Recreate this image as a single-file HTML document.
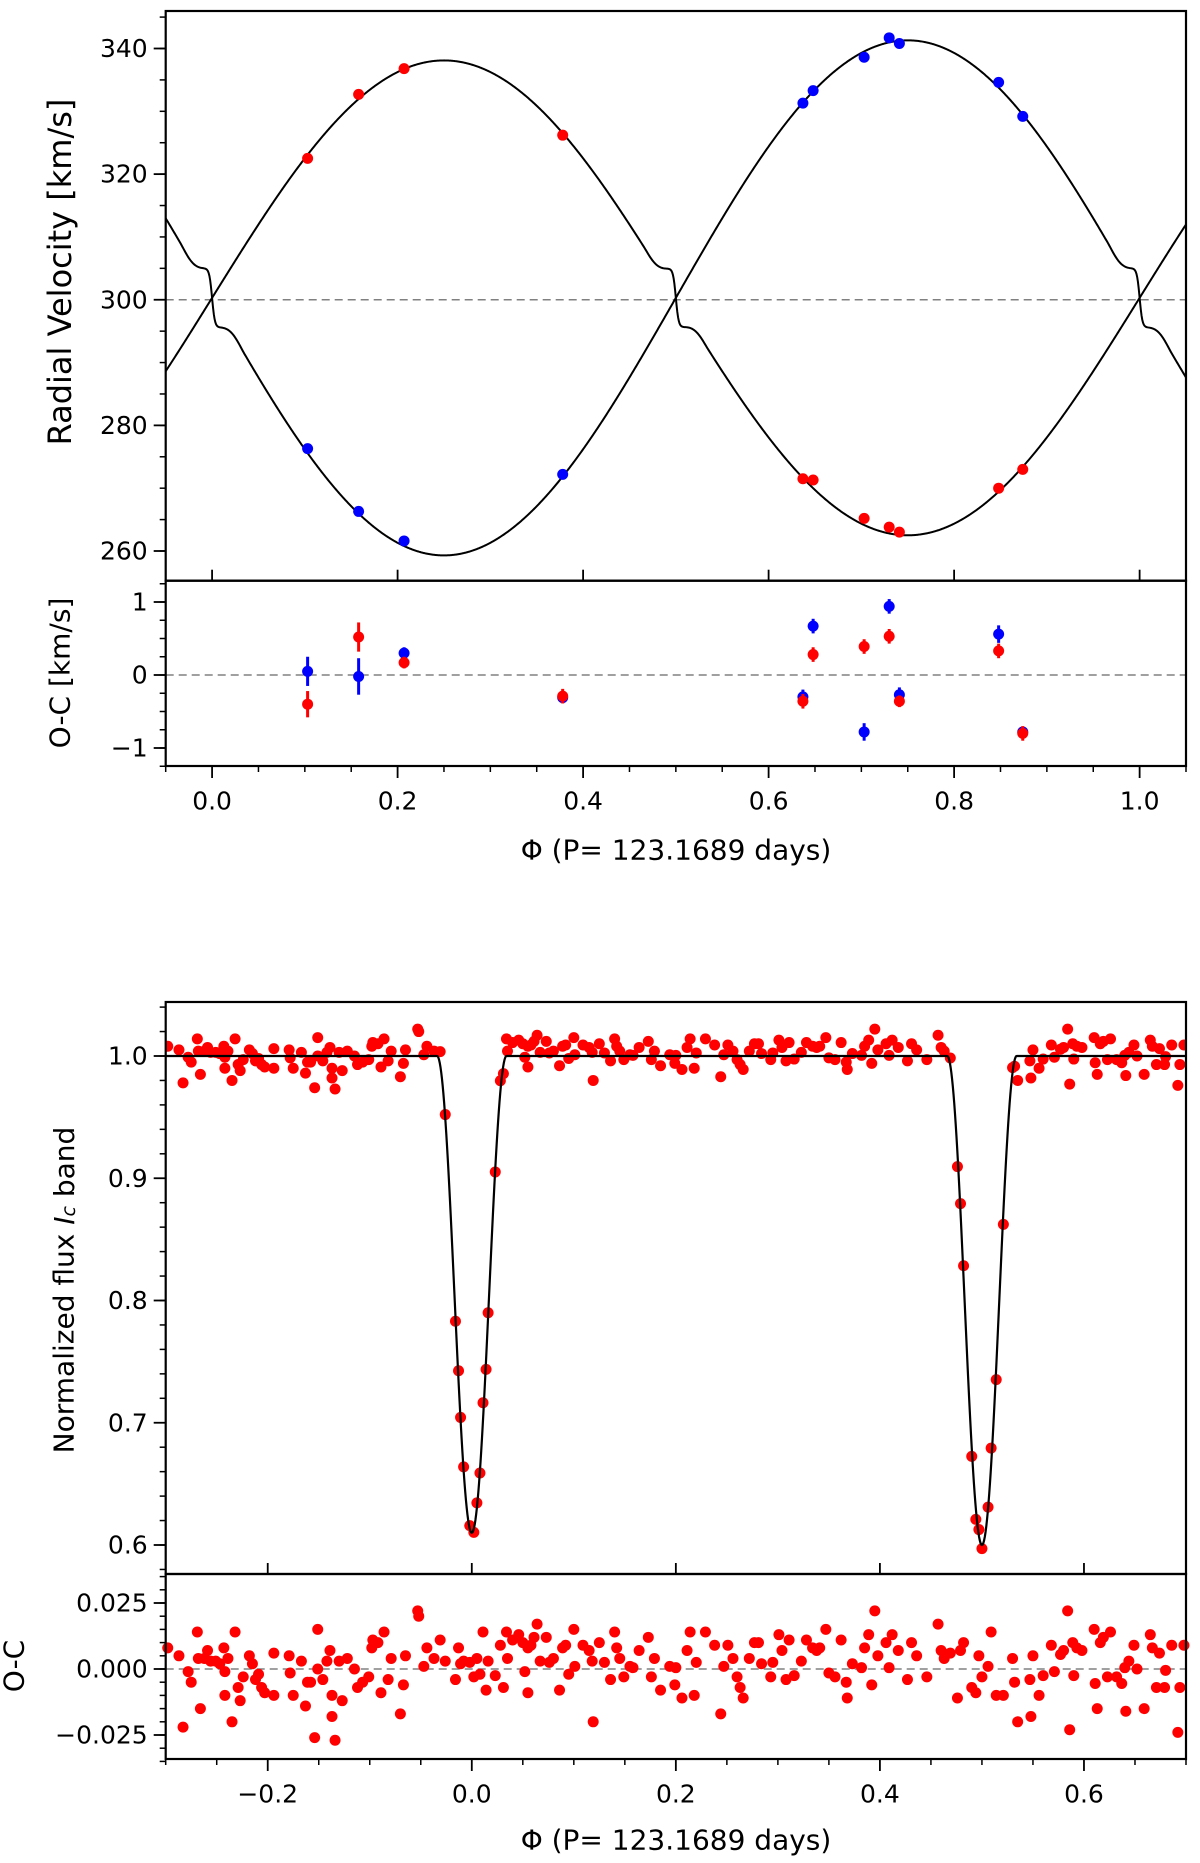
<!DOCTYPE html>
<html><head><meta charset="utf-8"><style>
html,body{margin:0;padding:0;background:#fff}
svg{display:block}
text{font-family:"DejaVu Sans","Liberation Sans",sans-serif;fill:#000}
</style></head><body>
<svg id="fig" width="1200" height="1863" viewBox="0 0 1200 1863" xmlns="http://www.w3.org/2000/svg"></svg>
<script>
// ---------- RV data ----------
const rvPhase = [0.103,0.158,0.207,0.378,0.637,0.648,0.703,0.730,0.741,0.848,0.874];
const rvRed   = [322.5,332.7,336.8,326.2,271.5,271.3,265.2,263.8,263.0,270.0,273.0];
const rvBlue  = [276.3,266.3,261.6,272.2,331.3,333.3,338.6,341.7,340.8,334.6,329.2];
const ocRed     = [-0.40,0.52,0.17,-0.29,-0.36,0.28,0.39,0.53,-0.36,0.33,-0.80];
const ocRedErr  = [0.18,0.20,0.08,0.10,0.10,0.10,0.10,0.10,0.08,0.10,0.10];
const ocBlue    = [0.05,-0.02,0.30,-0.31,-0.30,0.67,-0.78,0.94,-0.27,0.56,-0.78];
const ocBlueErr = [0.20,0.25,0.08,0.05,0.10,0.10,0.12,0.10,0.10,0.12,0.05];
const rvTicksY = [260,280,300,320,340];
const rvTicksX = [0.0,0.2,0.4,0.6,0.8,1.0];
const ocTicksY = [-1,0,1];
// ---------- Light curve data ----------
const lcPhase = [-0.298,-0.287,-0.283,-0.278,-0.275,-0.269,-0.268,-0.266,-0.262,-0.259,-0.256,-0.251,-0.247,-0.243,-0.242,-0.242,-0.239,-0.235,-0.232,-0.229,-0.227,-0.224,-0.218,-0.215,-0.212,-0.209,-0.206,-0.203,-0.194,-0.194,-0.179,-0.178,-0.175,-0.167,-0.163,-0.161,-0.158,-0.154,-0.151,-0.151,-0.146,-0.142,-0.139,-0.137,-0.137,-0.134,-0.130,-0.127,-0.122,-0.115,-0.112,-0.107,-0.101,-0.098,-0.097,-0.092,-0.089,-0.086,-0.082,-0.079,-0.070,-0.067,-0.065,-0.053,-0.052,-0.047,-0.044,-0.037,-0.031,-0.026,-0.016,-0.013,-0.011,-0.008,-0.002,0.002,0.005,0.008,0.011,0.014,0.016,0.023,0.028,0.031,0.034,0.035,0.040,0.046,0.050,0.052,0.055,0.055,0.058,0.061,0.064,0.067,0.073,0.076,0.080,0.086,0.089,0.092,0.095,0.100,0.101,0.109,0.115,0.118,0.119,0.125,0.130,0.136,0.140,0.142,0.145,0.149,0.155,0.158,0.164,0.173,0.176,0.179,0.185,0.194,0.199,0.200,0.206,0.211,0.214,0.218,0.220,0.229,0.238,0.244,0.247,0.251,0.256,0.260,0.263,0.266,0.272,0.277,0.281,0.284,0.293,0.295,0.301,0.304,0.308,0.311,0.316,0.323,0.328,0.334,0.338,0.341,0.347,0.350,0.356,0.362,0.367,0.368,0.373,0.382,0.385,0.389,0.392,0.395,0.398,0.406,0.409,0.412,0.418,0.427,0.431,0.436,0.446,0.457,0.460,0.463,0.469,0.476,0.479,0.482,0.490,0.494,0.497,0.500,0.506,0.509,0.514,0.521,0.530,0.532,0.535,0.547,0.548,0.550,0.556,0.560,0.568,0.571,0.577,0.580,0.584,0.586,0.589,0.590,0.593,0.598,0.610,0.611,0.613,0.616,0.619,0.623,0.626,0.632,0.637,0.640,0.641,0.644,0.649,0.652,0.659,0.665,0.667,0.671,0.674,0.679,0.680,0.686,0.692,0.694,0.698];
const lcResid = [0.008,0.005,-0.022,-0.001,-0.005,0.014,0.004,-0.015,0.004,0.007,0.003,0.003,0.002,0.008,-0.001,-0.010,0.004,-0.020,0.014,-0.007,-0.012,-0.003,0.005,0.002,-0.004,-0.002,-0.007,-0.009,0.006,-0.010,0.005,-0.0015,-0.010,0.003,-0.014,-0.005,-0.005,-0.026,0.015,0.000,-0.004,0.003,0.007,-0.010,-0.018,-0.027,0.003,-0.012,0.004,0.000,-0.007,-0.005,-0.003,0.008,0.011,0.010,-0.009,0.014,-0.004,0.004,-0.017,-0.006,0.005,0.022,0.020,0.001,0.008,0.004,0.011,0.003,-0.004,0.008,0.002,0.003,0.0025,-0.003,0.004,-0.002,0.014,-0.008,0.003,-0.0025,0.009,-0.007,0.014,0.004,0.011,0.013,0.010,-0.001,0.008,-0.009,0.009,0.012,0.017,0.003,0.012,0.0025,0.004,-0.008,0.008,0.009,-0.002,0.015,0.001,0.009,0.007,0.003,-0.020,0.010,0.0025,-0.004,0.014,0.008,0.004,-0.003,0.001,0.0005,0.007,0.012,-0.003,0.004,-0.008,0.001,-0.006,0.0005,-0.011,0.007,0.014,-0.010,0.0025,0.014,0.009,-0.017,0.001,0.009,0.004,-0.003,-0.007,-0.011,0.004,0.010,0.010,0.002,-0.003,0.0025,0.013,0.007,-0.004,0.011,-0.0025,0.003,0.011,0.008,0.007,0.008,0.015,-0.0015,-0.003,0.011,-0.005,-0.011,0.002,0.0005,0.008,0.013,-0.006,0.022,0.005,0.010,0.0005,0.013,0.007,-0.004,0.010,0.005,-0.003,0.017,0.007,0.004,0.006,-0.011,0.007,0.010,-0.007,-0.009,0.005,-0.003,0.001,0.014,-0.010,-0.010,0.004,-0.005,-0.020,-0.004,-0.018,0.005,-0.010,-0.0025,0.009,-0.001,0.0055,0.007,0.022,-0.023,0.010,-0.0025,0.008,0.007,0.015,-0.0055,-0.015,0.010,0.012,-0.003,0.014,-0.003,-0.0055,0.0005,-0.016,0.003,0.009,0.000,-0.015,0.013,0.008,-0.007,0.006,-0.007,-0.0005,0.009,-0.024,-0.007,0.009];
const lcTicksY = [0.6,0.7,0.8,0.9,1.0];
const lcTicksX = [-0.2,0.0,0.2,0.4,0.6];
const lcOcTicksY = [-0.025,0.0,0.025];

const NS='http://www.w3.org/2000/svg';
const svg=document.getElementById('fig');
function mk(tag,attrs,parent){const e=document.createElementNS(NS,tag);for(const k in attrs)e.setAttribute(k,attrs[k]);(parent||svg).appendChild(e);return e;}
function lin(d0,d1,r0,r1){return v=>r0+(v-d0)*(r1-r0)/(d1-d0);}
const L=165.7,R=1186;

const x1=lin(-0.05,1.05,L,R);
const yRV=lin(340,260,48.5,551);
const RV_T=11,RV_B=580.7,OC_B=766;
const yOC=lin(0,1,675,602);
const x2=lin(-0.3,0.7,L,R);
const LC_T=1002,LC_B=1574,LO_B=1759;
const yLC=lin(1.0,0.6,1056,1545);
const yLO=lin(0,0.025,1669,1603);

function grp(name){const g=mk('g',{});return g;}

const K1=37.8,K2=41;
function rm(d,K){const w=0.035;if(Math.abs(d)>=w)return 0;const env=Math.pow(1-(d/w)*(d/w),2);return (0.75*K*2*Math.PI*d-4.5*Math.tanh(d/0.003))*env;}
function redModel(p){let v=300.3+K1*Math.sin(2*Math.PI*p);v+=rm(p-0.5,K1);return v;}
function blueModel(p){let v=300.3-K2*Math.sin(2*Math.PI*p);for(const c of[0,1])v+=rm(p-c,K2);return v;}
function drawCurve(fn,xs,ys,name,g,lo,hi,wd){let d='';const n=1400;for(let i=0;i<=n;i++){const p=lo+(hi-lo)*i/n;d+=(i?'L':'M')+xs(p).toFixed(2)+' '+ys(fn(p)).toFixed(2);}const e=mk('path',{d:d,fill:'none',stroke:'#000','stroke-width':wd||2},g);}

function dashed(g,y,name){const e=mk('line',{x1:L,x2:R,y1:y,y2:y,stroke:'#808080','stroke-width':1.6,'stroke-dasharray':'8,5'},g);}
function dot(g,x,y,col,name){const e=mk('circle',{cx:x,cy:y,r:5.5,fill:col},g);}
function txt(g,x,y,s,opts,name){const e=mk('text',Object.assign({x:x,y:y,'font-size':25,'dominant-baseline':'central'},opts||{}),g);e.textContent=s;return e;}
function fmt(v,dec){let s=v.toFixed(dec);if(s.startsWith('-'))s='\u2212'+s.slice(1);if(/^−?0(\.0+)?$/.test(s))s=(0).toFixed(dec);return s;}
function yTicks(g,ys,majors,minorStep,lo,hi,dec,name){
  for(let v=Math.ceil(lo/minorStep-1e-9)*minorStep;v<=hi+1e-9;v+=minorStep){const y=ys(v);const e=mk('line',{x1:L-6,x2:L,y1:y,y2:y,stroke:'#000','stroke-width':1.5},g);}
  majors.forEach(v=>{const y=ys(v);const e=mk('line',{x1:L-12,x2:L,y1:y,y2:y,stroke:'#000','stroke-width':1.8},g);txt(g,L-18,y,fmt(v,dec),{'text-anchor':'end'},name+'-tick-label');});
}
function frame(g,t,b,name){const e=mk('rect',{x:L,y:t,width:R-L,height:b-t,fill:'none',stroke:'#000','stroke-width':2.2},g);}

// ===== Panel 1: RV =====
const g1=grp('rv-panel');
dashed(g1,yRV(300),'rv-systemic-line');
const cp=mk('clipPath',{id:'c1'});mk('rect',{x:L,y:RV_T,width:R-L,height:RV_B-RV_T},cp);
const g1c=mk('g',{'clip-path':'url(#c1)'},g1);
drawCurve(redModel,x1,yRV,'rv-model-primary',g1c,-0.05,1.05);
drawCurve(blueModel,x1,yRV,'rv-model-secondary',g1c,-0.05,1.05);
rvPhase.forEach((p,i)=>{dot(g1,x1(p),yRV(rvBlue[i]),'#0000ff','rv-point-blue');});
rvPhase.forEach((p,i)=>{dot(g1,x1(p),yRV(rvRed[i]),'#ff0000','rv-point-red');});
yTicks(g1,yRV,rvTicksY,5,256.3,345.8,0,'rv-y');
rvTicksX.forEach(v=>{const e=mk('line',{x1:x1(v),x2:x1(v),y1:RV_B-11,y2:RV_B,stroke:'#000','stroke-width':1.8},g1);});
frame(g1,RV_T,RV_B,'rv-axes-frame');
txt(g1,0,0,'Radial Velocity [km/s]',{transform:'translate(60,272) rotate(-90)','text-anchor':'middle','font-size':32},'rv-y-axis-title');

// ===== Panel 2: RV O-C =====
const g2=grp('rv-oc-panel');
dashed(g2,yOC(0),'rv-oc-zero-line');
function errDot(p,v,e,col,name){const x=x1(p);const l=mk('line',{x1:x,x2:x,y1:yOC(v-e),y2:yOC(v+e),stroke:col,'stroke-width':3},g2);dot(g2,x,yOC(v),col,name);}
rvPhase.forEach((p,i)=>errDot(p,ocBlue[i],ocBlueErr[i],'#0000ff','oc-point-blue'));
rvPhase.forEach((p,i)=>errDot(p,ocRed[i],ocRedErr[i],'#ff0000','oc-point-red'));
yTicks(g2,yOC,ocTicksY,0.25,-1.25,1.29,0,'rv-oc-y');
for(let v=-0.05;v<=1.05+1e-9;v+=0.05){const isMaj=Math.abs(v*5-Math.round(v*5))<1e-6;const e=mk('line',{x1:x1(v),x2:x1(v),y1:OC_B,y2:OC_B+(isMaj?12:6),stroke:'#000','stroke-width':isMaj?1.8:1.5},g2);}
rvTicksX.forEach(v=>txt(g2,x1(v),801,fmt(v,1),{'text-anchor':'middle'},'rv-oc-x-tick-label'));
frame(g2,RV_B,OC_B,'rv-oc-axes-frame');
txt(g2,0,0,'O-C [km/s]',{transform:'translate(60,673) rotate(-90)','text-anchor':'middle','font-size':28},'rv-oc-y-axis-title');
txt(g2,676,850,'\u03a6 (P= 123.1689 days)',{'text-anchor':'middle','font-size':28},'rv-x-axis-title');

// ===== Panel 3: light curve =====
function lcModel(p){let f=1;[[0,0.39],[0.5,0.40],[-0.5,0.40],[1,0.39]].forEach(([c,D])=>{const u=Math.abs(p-c)/0.034;if(u<1){const g=Math.cos(Math.PI*u/2);f-=D*g*g;}});return f;}
const g3=grp('lc-panel');
const cp3=mk('clipPath',{id:'c3'});mk('rect',{x:L,y:LC_T,width:R-L,height:LC_B-LC_T},cp3);
const g3c=mk('g',{'clip-path':'url(#c3)'},g3);
lcPhase.forEach((p,i)=>dot(g3c,x2(p),yLC(lcModel(p)+lcResid[i]),'#ff0000','lc-point'));
drawCurve(lcModel,x2,yLC,'lc-model-curve',g3c,-0.3,0.7,2.2);
yTicks(g3,yLC,lcTicksY,0.02,0.576,1.0416,1,'lc-y');
lcTicksX.forEach(v=>{const e=mk('line',{x1:x2(v),x2:x2(v),y1:LC_B-11,y2:LC_B,stroke:'#000','stroke-width':1.8},g3);});
frame(g3,LC_T,LC_B,'lc-axes-frame');
const yl=mk('text',{transform:'translate(64,1290) rotate(-90)','text-anchor':'middle','font-size':28,'dominant-baseline':'central'},g3);


yl.appendChild(document.createTextNode('Normalized flux '));
const ti=mk('tspan',{'font-style':'italic'},yl);ti.textContent='I';
const ts=mk('tspan',{'font-style':'italic','font-size':19,dy:5},yl);ts.textContent='c';
const tb=mk('tspan',{dy:-5},yl);tb.textContent=' band';

// ===== Panel 4: LC O-C =====
const g4=grp('lc-oc-panel');
dashed(g4,yLO(0),'lc-oc-zero-line');
lcPhase.forEach((p,i)=>dot(g4,x2(p),yLO(lcResid[i]),'#ff0000','lc-oc-point'));
yTicks(g4,yLO,lcOcTicksY,0.005,-0.0369,0.0352,3,'lc-oc-y');
for(let v=-0.3;v<=0.7+1e-9;v+=0.05){const isMaj=Math.abs(v*5-Math.round(v*5))<1e-6;const e=mk('line',{x1:x2(v),x2:x2(v),y1:LO_B,y2:LO_B+(isMaj?12:6),stroke:'#000','stroke-width':isMaj?1.8:1.5},g4);}
lcTicksX.forEach(v=>txt(g4,x2(v),1794,fmt(v,1),{'text-anchor':'middle'},'lc-oc-x-tick-label'));
frame(g4,LC_B,LO_B,'lc-oc-axes-frame');
txt(g4,0,0,'O-C',{transform:'translate(14,1666) rotate(-90)','text-anchor':'middle','font-size':28},'lc-oc-y-axis-title');
txt(g4,676,1840,'\u03a6 (P= 123.1689 days)',{'text-anchor':'middle','font-size':28},'lc-x-axis-title');
</script>
</body></html>
